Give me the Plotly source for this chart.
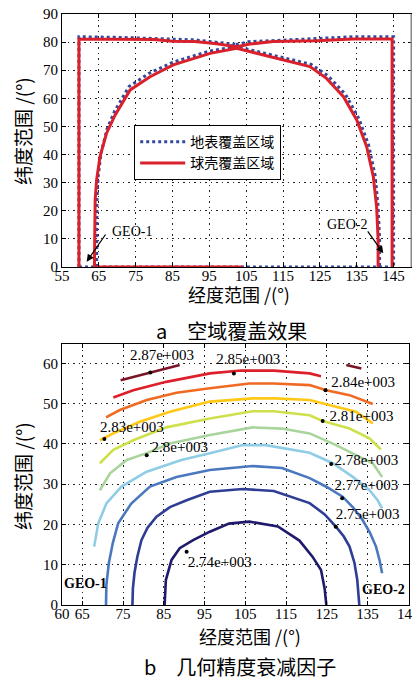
import plotly.graph_objects as go

# ---------------- Top chart (a) data ----------------
# ground coverage (地表覆盖区域) – blue dotted
ground_outer_left_lon = [59.6, 59.6, 70, 80, 91, 102]
ground_outer_left_lat = [0, 81.9, 81.7, 81.3, 80.8, 79.2]
ground_outer_right_lon = [100.6, 106, 112, 124, 134, 145, 145]
ground_outer_right_lat = [78.6, 80.2, 80.5, 81.3, 81.9, 81.9, 0]
ground_arc_lon = [64.4, 64.4, 64.5, 64.8, 65.6, 67.2, 69.3, 73.2, 78.5, 85, 95, 102.4,
                  113.5, 122.6, 127.2, 131.9, 135.5, 138.2, 140.0, 140.8, 141.2, 141.2]
ground_arc_lat = [0, 12, 24, 32, 40.5, 49, 55.5, 64.2, 68.8, 72.8, 76.8, 78.4,
                  74.9, 72.1, 68, 61.5, 53, 43.5, 32.5, 21.5, 10, 0]
ground_bottom_lon = [59.6, 145]
ground_bottom_lat = [0, 0]

# shell coverage (球壳覆盖区域) – red solid
shell_outer_left_lon = [59.6, 59.6, 70, 80, 85, 91, 97, 102.5]
shell_outer_left_lat = [0, 81.0, 81.0, 80.9, 80.3, 80.2, 79.4, 78.3]
shell_outer_right_lon = [100.6, 106, 112.3, 124, 134, 144.6, 144.6]
shell_outer_right_lat = [77.8, 79.3, 80.2, 80.5, 81.1, 81.1, 0]
shell_arc_lon = [63.8, 63.9, 64.0, 64.4, 65.3, 67.1, 69.4, 73.5, 78.9, 85.2, 95.2, 102.4,
                 113.3, 122.3, 126.8, 131.4, 135.0, 137.7, 139.5, 140.4, 140.8, 140.8]
shell_arc_lat = [0, 12, 23.8, 31, 39.2, 47.6, 54, 63, 67.7, 71.9, 76, 77.8,
                 74.2, 71.3, 67.1, 60.6, 52.3, 42.8, 32.1, 21.4, 10, 0]
shell_bottom_lon = [63.8, 104]
shell_bottom_lat = [0, 0]

top_xticks = [55, 65, 75, 85, 95, 105, 115, 125, 135, 145]
top_yticks = [0, 10, 20, 30, 40, 50, 60, 70, 80, 90]

# ---------------- Bottom chart (b) data ----------------
c274_lon = [85.2, 85.5, 86.9, 88.9, 92.2, 96.3, 101, 106, 113, 118.3, 121.5, 123.6, 124.5, 124.9]
c274_lat = [0, 6.2, 11.2, 14.1, 16.1, 18.2, 20.2, 20.7, 19.5, 16, 12, 8.7, 4, 0]
c275_lon = [77.3, 77.4, 77.8, 78.5, 79.5, 81, 83.2, 86.5, 90.6, 96.3, 104.4, 112, 120.8,
            124.5, 127.3, 129.2, 130.6, 131.8, 132.5, 133]
c275_lat = [0, 4, 8, 12, 16.1, 19.2, 21.9, 24.3, 26, 28.1, 28.8, 28.3, 25.3,
            22.5, 19.4, 17, 14.5, 10.5, 6.2, 0]
c277_lon = [70.8, 70.9, 71.5, 72.5, 73.8, 77, 81.6, 88.1, 96.3, 106.8, 114, 120.8, 125,
            128.9, 131.5, 133.8, 135.6, 137.1, 138.0, 138.6]
c277_lat = [0, 5, 10.4, 15.5, 20.3, 25.2, 29.4, 31.8, 33.5, 34.5, 34, 31.5, 29.3,
            26.9, 24.2, 21.1, 18, 14.5, 11, 7.9]
c278_lon = [67.9, 68.9, 70.9, 74.6, 80.8, 89.3, 96.3, 104.4, 110, 120.8, 126.5, 131.4, 135.5, 137.5, 138.6]
c278_lat = [14.5, 20.3, 25.2, 29.4, 33.1, 36, 37.7, 39.7, 39.7, 37.8, 35.2, 31.8, 28.5, 26, 24]
c280_lon = [69.3, 71.8, 75.9, 80.8, 86.5, 96.3, 106.8, 114, 120.8, 127.3, 132.2, 136.3, 138.6]
c280_lat = [28.5, 32.7, 36, 37.7, 40.1, 42.2, 44.1, 43.8, 42.6, 39.7, 37.2, 35.2, 31.8]
c281_lon = [69.3, 72.6, 77.5, 85.6, 96.3, 106.8, 112, 120.8, 124, 130.6, 135.5, 138.3]
c281_lat = [35.2, 38.5, 40.9, 44.1, 46.3, 48.1, 48.1, 47.1, 45.7, 43.8, 41.4, 38.6]
c283_lon = [69.3, 72.6, 79.1, 86.5, 96.3, 106.8, 112.3, 120.8, 127.3, 132.2, 136.3]
c283_lat = [40.9, 42.6, 45.5, 48, 50.5, 51.3, 51.3, 50.9, 49.2, 48, 45.1]
c284_lon = [70.8, 74.2, 80.8, 88.1, 96.3, 106, 112, 120.8, 124.9, 130.6, 136.3]
c284_lat = [46.6, 48.4, 50.9, 52.7, 53.8, 55, 55, 54.6, 53.3, 52.1, 49.9]
c285_lon = [72.6, 77.5, 85.6, 96.3, 104, 112, 120.8, 123.6]
c285_lat = [51.5, 53.3, 55.4, 57.5, 58.2, 58.2, 57.5, 56.8]
c287a_lon = [74.4, 81.6, 88.9]
c287a_lat = [55.8, 57.7, 59.6]
c287b_lon = [129.8, 133.5]
c287b_lat = [59.6, 58.7]

contour_colors = ["#1f1a6b", "#2f3d94", "#4a78bf", "#8fcde6", "#a9d49c",
                  "#cfe04c", "#ffc814", "#f06a22", "#dc1f2a", "#7c1427", "#7c1427"]

label_texts = ["2.87e+003", "2.85e+003", "2.84e+003", "2.83e+003", "2.81e+003",
               "2.8e+003", "2.78e+003", "2.77e+003", "2.75e+003", "2.74e+003"]
label_dot_lon = [81.7, 102.2, 124.7, 70.4, 124.0, 80.8, 126.1, 128.8, 127.2, 90.6]
label_dot_lat = [57.7, 57.5, 53.3, 41.2, 45.7, 37.2, 35.0, 26.5, 19.4, 13.2]
label_txt_lon = [76.7, 97.9, 126.1, 69.3, 125.7, 82.0, 126.9, 126.9, 127.2, 90.9]
label_txt_lat = [61.8, 60.8, 55.0, 43.8, 46.7, 38.9, 35.6, 29.4, 22.2, 10.4]

bot_xticks = [60, 65, 75, 85, 95, 105, 115, 125, 135, 145]
bot_yticks = [0, 10, 20, 30, 40, 50, 60]

FONT = "Liberation Serif, Noto Sans CJK SC, serif"
CJK = "Noto Sans CJK SC, sans-serif"

# page body has an 8px margin: the figure is drawn 8px lower/right
OFF = 8
W, H = 420 - OFF, 680 - OFF


def px(x):
    return (x - OFF) / W


def py(y):
    return 1 - (y - OFF) / H


def join(*parts):
    out = []
    for i, p in enumerate(parts):
        if i:
            out.append(None)
        out.extend(p)
    return out


fig = go.Figure()

BLUE = "#34489c"
RED = "#d9202b"

fig.add_trace(go.Scatter(
    x=join(ground_bottom_lon, ground_outer_left_lon, ground_outer_right_lon, ground_arc_lon),
    y=join(ground_bottom_lat, ground_outer_left_lat, ground_outer_right_lat, ground_arc_lat),
    mode="lines", name="地表覆盖区域", line=dict(color=BLUE, width=3, dash="dot"),
    xaxis="x", yaxis="y", connectgaps=False))
fig.add_trace(go.Scatter(
    x=join(shell_bottom_lon, shell_outer_left_lon, shell_outer_right_lon, shell_arc_lon),
    y=join(shell_bottom_lat, shell_outer_left_lat, shell_outer_right_lat, shell_arc_lat),
    mode="lines", name="球壳覆盖区域", line=dict(color=RED, width=3),
    xaxis="x", yaxis="y", connectgaps=False))

contours = [(c274_lon, c274_lat), (c275_lon, c275_lat), (c277_lon, c277_lat),
            (c278_lon, c278_lat), (c280_lon, c280_lat), (c281_lon, c281_lat),
            (c283_lon, c283_lat), (c284_lon, c284_lat), (c285_lon, c285_lat),
            (c287a_lon, c287a_lat), (c287b_lon, c287b_lat)]
for (lx, ly), col in zip(contours, contour_colors):
    fig.add_trace(go.Scatter(x=lx, y=ly, mode="lines", line=dict(color=col, width=2.6),
                             xaxis="x2", yaxis="y2", showlegend=False, hoverinfo="skip"))

fig.add_trace(go.Scatter(x=label_dot_lon, y=label_dot_lat, mode="markers",
                         marker=dict(color="black", size=4), xaxis="x2", yaxis="y2",
                         showlegend=False))
fig.add_trace(go.Scatter(x=label_txt_lon, y=label_txt_lat, mode="text", text=label_texts,
                         textposition="middle right",
                         textfont=dict(family=FONT, size=15, color="black"),
                         xaxis="x2", yaxis="y2", showlegend=False, cliponaxis=False))

axis_common = dict(showline=True, mirror="ticks", linecolor="black", linewidth=1.2,
                   ticks="inside", ticklen=4, tickcolor="black", automargin=False,
                   showgrid=True, gridcolor="#222", griddash="1.5px,4px", gridwidth=1,
                   ticklabeloverflow="allow",
                   zeroline=False, tickfont=dict(family=FONT, size=15, color="black"))

fig.update_layout(
    template="none",
    width=W, height=H, margin=dict(l=0, r=0, t=0, b=0, autoexpand=False),
    paper_bgcolor="white", plot_bgcolor="white",
    font=dict(family=FONT, color="black"),
    xaxis=dict(domain=[px(62), px(412)], anchor="y", range=[55, 150],
               tickvals=top_xticks, ticklabelstandoff=-5, **axis_common),
    yaxis=dict(domain=[py(267), py(14)], anchor="x", range=[0, 90],
               tickvals=top_yticks, **axis_common),
    xaxis2=dict(domain=[px(62), px(409)], anchor="y2", range=[60, 145.2],
                tickvals=bot_xticks, ticklabelstandoff=-5, **axis_common),
    yaxis2=dict(domain=[py(605), py(344)], anchor="x2", range=[0, 64.8],
                tickvals=bot_yticks, **axis_common),
    showlegend=True,
    legend=dict(x=px(134), y=py(125), xanchor="left", yanchor="top",
                bordercolor="black", borderwidth=1.2, bgcolor="white",
                font=dict(family=CJK, size=14, color="black"),
                tracegroupgap=0, itemwidth=45),
)

# right border of top chart (grey)
fig.add_shape(type="line", xref="x domain", yref="y domain", x0=1, x1=1, y0=0, y1=1,
              line=dict(color="#888", width=3))

ann = []
# arrows top chart
ann.append(dict(x=61.7, y=1.9, ax=67.1, ay=12.1, xref="x", yref="y", axref="x", ayref="y",
                showarrow=True, arrowhead=2, arrowsize=1.2, arrowwidth=1.2, arrowcolor="black", text=""))
ann.append(dict(x=68.0, y=12.8, xref="x", yref="y", text="GEO-1", showarrow=False,
                xanchor="left", font=dict(family=FONT, size=14)))
ann.append(dict(x=142.2, y=4.9, ax=137.7, ay=13.2, xref="x", yref="y", axref="x", ayref="y",
                showarrow=True, arrowhead=2, arrowsize=1.2, arrowwidth=1.2, arrowcolor="black", text=""))
ann.append(dict(x=138.2, y=15.2, xref="x", yref="y", text="GEO-2", showarrow=False,
                xanchor="right", font=dict(family=FONT, size=14)))
# GEO labels bottom chart
ann.append(dict(x=60.0, y=5.4, xref="x2", yref="y2", text="<b>GEO-1</b>", showarrow=False,
                xanchor="left", font=dict(family=FONT, size=14)))
ann.append(dict(x=144.6, y=3.8, xref="x2", yref="y2", text="<b>GEO-2</b>", showarrow=False,
                xanchor="right", font=dict(family=FONT, size=14)))


# titles
def ptext(txt, x, y, size, angle=0, family=CJK):
    return dict(x=px(x), y=py(y), xref="paper", yref="paper", text=txt, showarrow=False,
                xanchor="center", yanchor="middle", textangle=angle,
                font=dict(family=family, size=size, color="black"))


ann.append(ptext("经度范围 /(°)", 239, 294, 18))
ann.append(ptext("a\u2003空域覆盖效果", 231, 330, 20))
ann.append(ptext("纬度范围 /(°)", 22, 131, 19, angle=-90))
ann.append(ptext("经度范围 /(°)", 250, 636, 18))
ann.append(ptext("b\u2003几何精度衰减因子", 240, 666, 20))
ann.append(ptext("纬度范围 /(°)", 22, 476, 19, angle=-90))

fig.update_layout(annotations=ann)

fig.write_html("out.html")
